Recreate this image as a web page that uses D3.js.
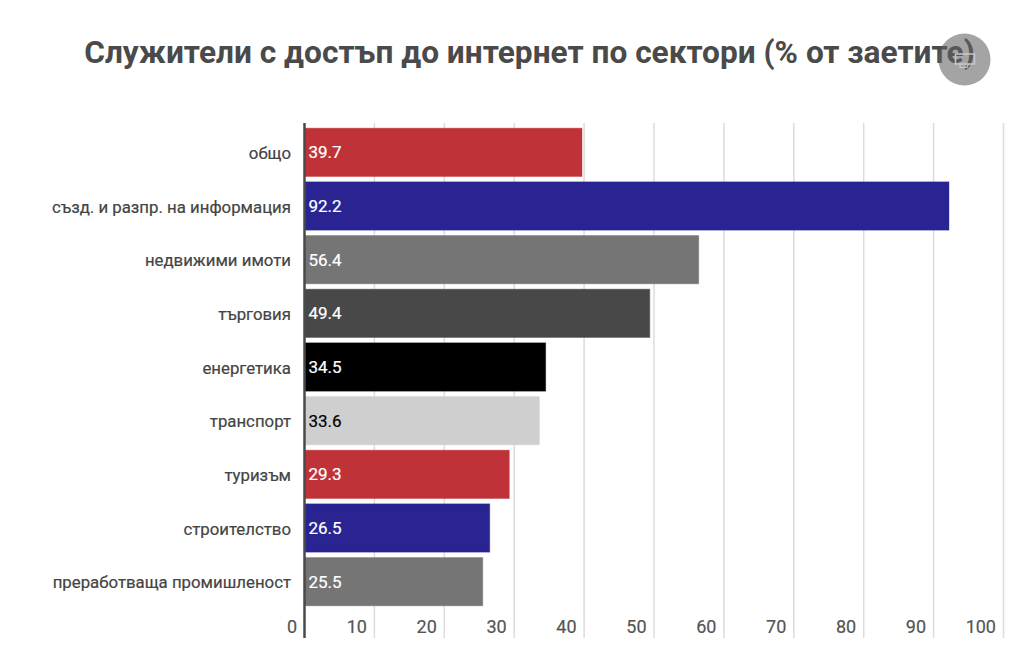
<!DOCTYPE html>
<html><head><meta charset="utf-8">
<script src="https://cdnjs.cloudflare.com/ajax/libs/d3/7.8.5/d3.min.js"></script>
<style>html,body{margin:0;padding:0;background:#fff}svg{display:block}text{font-family:Roboto,sans-serif}</style>
</head><body><svg id="c" width="1024" height="666"></svg>
<script>
const titleText = "Служители с достъп до интернет по сектори (% от заетите)";
const categories = ["общо","създ. и разпр. на информация","недвижими имоти","търговия","енергетика","транспорт","туризъм","строителство","преработваща промишленост"];
const values = [39.7,92.2,56.4,49.4,34.5,33.6,29.3,26.5,25.5];
const barColors = ["#bf3338","#2a2492","#757575","#484848","#000000","#cfcfcf","#bf3338","#2a2492","#757575"];
const labelColors = ["#fff","#fff","#fff","#fff","#fff","#000","#fff","#fff","#fff"];
const ticks = [0,10,20,30,40,50,60,70,80,90,100];

const svg = d3.select("#c");
const x = d3.scaleLinear().domain([0,100]).range([304.5,1003.5]);
const y = d3.scaleBand().domain(categories).range([125.5,608.5]).paddingInner(0.1).paddingOuter(0.05);

svg.append("text").attr("x",529.5).attr("y",63).attr("text-anchor","middle")
  .attr("font-size",31.65).attr("font-weight",700).attr("fill","#4a4a4a").text(titleText);

svg.append("g").selectAll("line").data(ticks.slice(1)).join("line")
  .attr("x1",d=>x(d)).attr("x2",d=>x(d)).attr("y1",123).attr("y2",638)
  .attr("stroke","#dcdcdc").attr("stroke-width",1.5);

svg.append("g").selectAll("rect").data(values).join("rect")
  .attr("x",x(0)).attr("y",(d,i)=>y(categories[i])).attr("height",y.bandwidth())
  .attr("width",d=>x(d)-x(0)).attr("fill",(d,i)=>barColors[i])
  .attr("stroke",(d,i)=>barColors[i]).attr("stroke-opacity",0.4).attr("stroke-width",1);

svg.append("g").selectAll("text").data(values).join("text")
  .attr("x",x(0)+4).attr("y",(d,i)=>y(categories[i])+y.bandwidth()/2+6)
  .attr("font-size",17).attr("font-weight",400).attr("fill",(d,i)=>labelColors[i])
  .attr("stroke",(d,i)=>labelColors[i]).attr("stroke-width",0.2).text(d=>d.toFixed(1));

svg.append("g").selectAll("text").data(categories).join("text")
  .attr("x",291).attr("y",d=>y(d)+y.bandwidth()/2+6.5).attr("text-anchor","end")
  .attr("font-size",16.8).attr("font-weight",400).attr("fill","#444")
  .attr("stroke","#444").attr("stroke-width",0.2).text(d=>d);

svg.append("g").selectAll("text").data(ticks).join("text")
  .attr("x",d=>x(d)-7.5).attr("y",633).attr("text-anchor","end")
  .attr("font-size",18).attr("font-weight",400).attr("fill","#555")
  .attr("stroke","#555").attr("stroke-width",0.2).text(d=>d);

svg.append("line").attr("x1",x(0)).attr("x2",x(0)).attr("y1",123).attr("y2",638)
  .attr("stroke","#4a4a4a").attr("stroke-width",2.5);

// overlay button
const b = svg.append("g");
b.append("circle").attr("cx",964.5).attr("cy",59.5).attr("r",26).attr("fill","#626262").attr("fill-opacity",0.58);
b.append("rect").attr("x",955.5).attr("y",54).attr("width",19).attr("height",10).attr("fill","none").attr("stroke","#c8c8c8").attr("stroke-width",1.5);
b.append("path").attr("d","M960 64v3.5h7l1.5-3.5").attr("fill","none").attr("stroke","#c8c8c8").attr("stroke-width",1.2);
</script></body></html>
